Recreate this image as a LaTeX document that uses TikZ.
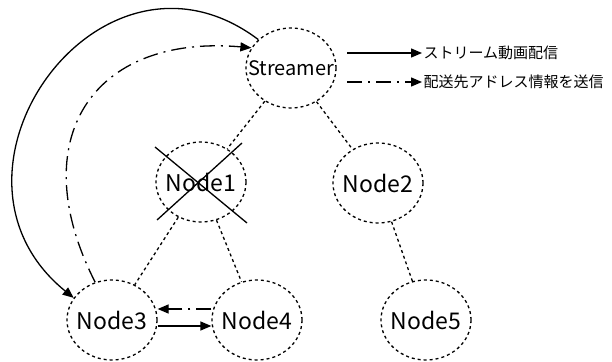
\documentclass[tikz,border=0pt]{standalone}
\usepackage{fontspec}
\setmainfont{Noto Sans CJK JP}
\usetikzlibrary{shapes.geometric, arrows.meta}
\tikzstyle{peer}=[draw,ellipse,dash pattern=on 3pt off 3pt,minimum width=90pt,minimum height=80pt,inner sep=0pt,font=\fontsize{23}{23}\selectfont]
\tikzstyle{link}=[dash pattern=on 3pt off 3pt]
\tikzstyle{info}=[dash pattern=on 15pt off 6pt on 2pt off 6pt]
\tikzstyle{every node}=[font=\fontsize{15}{15}\selectfont]
\newcommand{\name}[1]{\makebox[0pt]{#1}}

\begin{document}
\begin{tikzpicture}[x=1pt,y=1pt,line width=1.3pt,>={Triangle[length=11pt,width=9pt]}]
    \useasboundingbox (0,0) rectangle (612,361);
    \node[peer,font=\fontsize{20}{20}\selectfont] (st) at (291,293) {\name{Streamer}};
    \node[peer] (n1) at (201,179) {\name{Node1}};
    \node[peer] (n2) at (378,178) {\name{Node2}};
    \node[peer] (n3) at (112,41) {\name{Node3}};
    \node[peer] (n4) at (257,41) {\name{Node4}};
    \node[peer] (n5) at (426,41) {\name{Node5}};
    \draw[link] (st) -- (n1);
    \draw[link] (st) -- (n2);
    \draw[link] (n1) -- (n3);
    \draw[link] (n1) -- (n4);
    \draw[link] (n2) -- (n5);
    % Node1 is down
    \draw ([shift={(-46pt,35pt)}]n1.center) -- ([shift={(46pt,-41pt)}]n1.center);
    \draw ([shift={(41pt,39pt)}]n1.center) -- ([shift={(-44pt,-38pt)}]n1.center);
    % stream and address info
    \draw[->] (st.139) to[out=143,in=141,looseness=1.6] (n3.150);
    \draw[info,->] (n3.114) to[out=117,in=175,looseness=1.45] (st.153);
    \draw[info,->] ([yshift=11pt]n4.west) -- ([yshift=11pt]n3.east);
    \draw[->] ([yshift=-6pt]n3.east) -- ([yshift=-6pt]n4.west);
    % legend
    \node[anchor=west,inner sep=1pt] (l1) at (422,308) {ストリーム動画配信};
    \node[anchor=west,inner sep=1pt] (l2) at (422,279) {配送先アドレス情報を送信};
    \coordinate (l1s) at (347,308);
    \coordinate (l2s) at (347,279);
    \draw[->] (l1s) -- (l1);
    \draw[info,->] (l2s) -- (l2);
\end{tikzpicture}
\end{document}
